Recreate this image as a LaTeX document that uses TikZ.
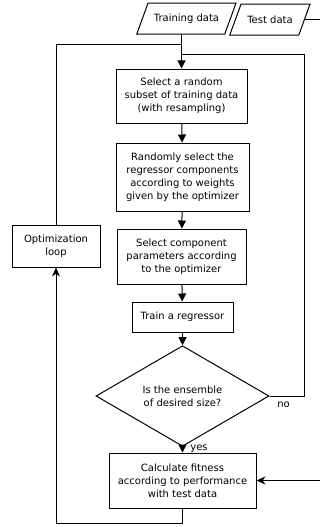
\documentclass[tikz,border=0pt]{standalone}
\usepackage{fontspec}
\setmainfont{DejaVu Sans}
\usetikzlibrary{shapes.geometric,arrows.meta}

\tikzset{
    box/.style={draw, line width=1pt, align=center, inner sep=2pt},
    io/.style={inner sep=1pt, minimum height=31},
    decision/.style={draw, line width=1pt, diamond, align=center, inner sep=0pt},
    flow/.style={line width=1pt, -{Triangle[width=8pt,length=8pt]}},
    back/.style={line width=1pt, -{Stealth[width=8pt,length=9pt]}},
    line/.style={line width=1pt},
}

\begin{document}
\begin{tikzpicture}[x=1pt, y=-1pt, font=\fontsize{10}{13}\selectfont]
    \useasboundingbox (0,0) rectangle (320,527);
    \clip (0,0) rectangle (320,527);

    % Inputs (parallelograms, slant 11)
    \node[io, minimum width=88] (train) at (186.5,18.5) {Training data};
    \node[io, minimum width=69] (test) at (270,19.5) {Test data};
    \draw[line] (train.south west) ++(-5.6,0) -- ++(11.3,-31) -- ++(88,0) -- ++(-11.3,31) -- cycle;
    \draw[line] (test.south west) ++(-5.6,0) -- ++(11.3,-31) -- ++(69,0) -- ++(-11.3,31) -- cycle;

    % Main chain
    \node[box, minimum width=131, minimum height=54] (subset) at (181.5,96)
        {Select a random\\subset of training data\\(with resampling)};
    \node[box, minimum width=133, minimum height=68] (comps) at (182.5,177)
        {Randomly select the\\regressor components\\according to weights\\given by the optimizer};
    \node[box, minimum width=129, minimum height=55] (params) at (181.5,256.5)
        {Select component\\parameters according\\to the optimizer};
    \node[box, minimum width=101, minimum height=30] (trainreg) at (182.5,317)
        {Train a regressor};
    \node[decision, minimum width=173, minimum height=86] (size) at (182.5,396)
        {Is the ensemble\\of desired size?};
    \node[box, minimum width=147, minimum height=55] (fitness) at (182.5,480.5)
        {Calculate fitness\\according to performance\\with test data};

    % Loop box
    \node[box, minimum width=88, minimum height=42] (optloop) at (56,246)
        {Optimization\\loop};

    % Joints on the input line
    \coordinate (optjoin) at (subset.north |- 0,45);
    \coordinate (nojoin) at (subset.north |- 0,55);

    % Arrows down the chain
    \draw[flow] (train.south -| subset.north) -- (subset.north);
    \draw[flow] (subset) -- (comps);
    \draw[flow] (comps) -- (params);
    \draw[flow] (params) -- (trainreg);
    \draw[flow] (trainreg) -- (size);
    \draw[flow] (size) -- node[right, xshift=4pt, yshift=1pt] {yes} (fitness);

    % Back loops
    \draw[line] (size.east) node[below right, xshift=4pt, yshift=-2pt] {no} -- ++(35,0) |- (nojoin);
    \draw[line] (optloop.north) |- (optjoin);
    \draw[back] (fitness.south) -- ++(0,15) -| (optloop.south);

    % Test data feed
    \draw[back] (test.east) -- ++(40,0) |- (fitness.east);
\end{tikzpicture}
\end{document}
